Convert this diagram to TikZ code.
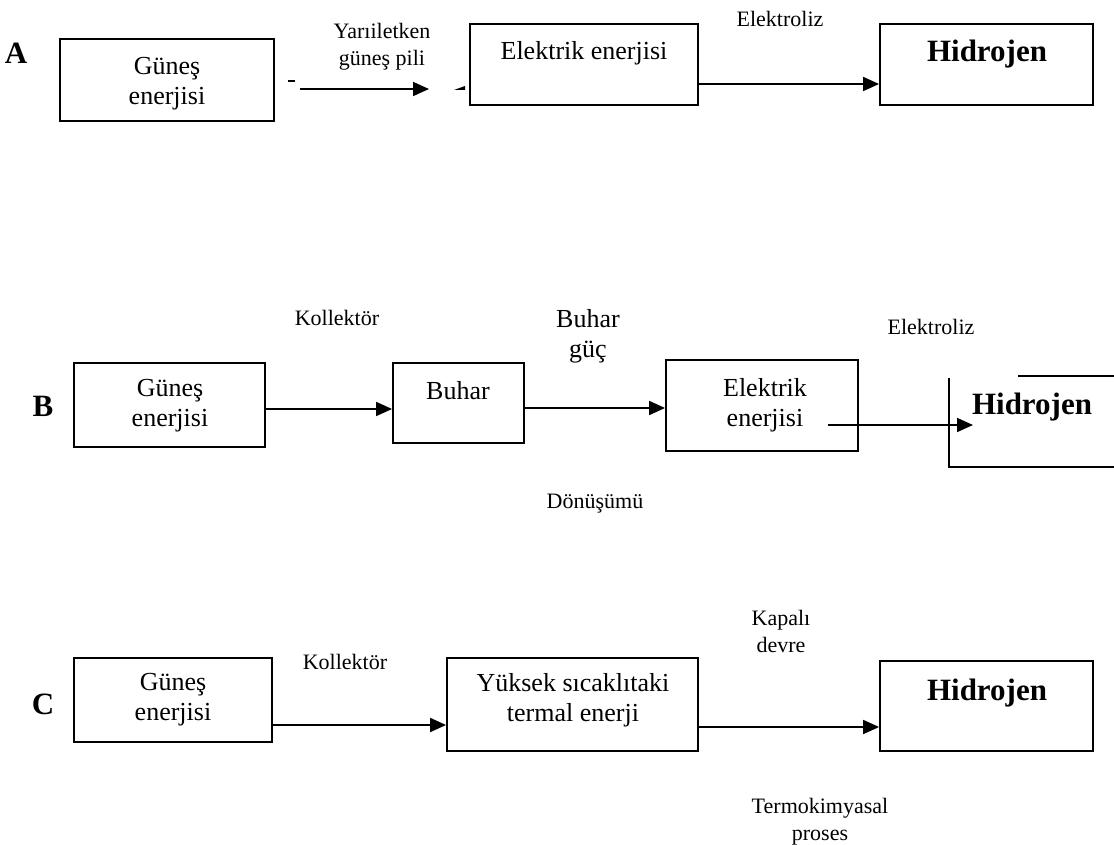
\documentclass[tikz,border=0pt]{standalone}
\usepackage{fontspec}
\setmainfont{Liberation Serif}
\usetikzlibrary{arrows.meta,positioning}

\tikzset{
  box/.style={draw, line width=1.8pt, inner sep=0pt},
  flow/.style={-{Triangle[length=16pt,width=14pt]}, line width=1.8pt},
  txt/.style={font=\fontsize{26}{30}\selectfont, align=center, inner sep=0pt},
  note/.style={font=\fontsize{22}{27}\selectfont, align=center, inner sep=0pt},
  big/.style={font=\fontsize{31}{34}\selectfont\bfseries, inner sep=0pt},
}

\begin{document}
\begin{tikzpicture}[x=1pt, y=-1pt]
  \useasboundingbox (0,0) rectangle (1114,845);

  % row A
  \node[big] (lA) at (16,53) {A};
  \node[box, minimum width=214pt, minimum height=82pt] (a1) at (167,80) {};
  \node[txt] (a1t) at (167,84) {Güneş\\enerjisi};
  \draw[line width=1.8pt] (288,81) -- (295,81);
  \coordinate (a1out) at (300,89);
  \coordinate (a2in) at (429,89);
  \draw[flow] (a1out) -- (a2in);
  \node[note] (a12) at (382,47) {Yarıiletken\\güneş pili};
  \fill (454,90) -- (465,86) -- (465,90) -- cycle;
  \node[box, minimum width=228pt, minimum height=81pt] (a2) at (584,64.5) {};
  \node[txt] (a2t) at (584,53) {Elektrik enerjisi};
  \node[note] (a23) at (780,19) {Elektroliz};
  \node[box, minimum width=213pt, minimum height=81pt] (a3) at (986.5,64.5) {};
  \node[big] (a3t) at (987,54) {Hidrojen};
  \draw[flow] ([yshift=-19.5pt]a2.east) -- ([yshift=-19.5pt]a3.west);

  % row B
  \node[big] (lB) at (43,406) {B};
  \node[box, minimum width=191pt, minimum height=84pt] (b1) at (169.5,405) {};
  \node[txt] (b1t) at (170,406) {Güneş\\enerjisi};
  \node[note] (b12) at (337,318) {Kollektör};
  \node[box, minimum width=131pt, minimum height=80pt] (b2) at (458.5,403) {};
  \node[txt] (b2t) at (458,391) {Buhar};
  \draw[flow] ([yshift=-4pt]b1.east) -- ([yshift=-4pt]b1.east -| b2.west);
  \node[txt] (b23) at (588,336) {Buhar\\güç};
  \node[box, minimum width=192pt, minimum height=91pt] (b3) at (762,405.5) {};
  \node[txt] (b3t) at (765,405) {Elektrik\\enerjisi};
  \draw[flow] ([yshift=-5pt]b2.east) -- ([yshift=-5pt]b2.east -| b3.west);
  \node[note] (b23b) at (595,504) {Dönüşümü};
  \node[note] (b34) at (931,327) {Elektroliz};
  \coordinate (b3out) at (828,425);
  \coordinate (b4in) at (973,425);
  \draw[flow] (b3out) -- (b4in);
  \draw[line width=1.8pt] (949,378) -- (949,467) -- (1114,467);
  \draw[line width=1.8pt] (1018,376) -- (1114,376);
  \node[big] (b4t) at (1032,407) {Hidrojen};

  % row C
  \node[big] (lC) at (43,704) {C};
  \node[box, minimum width=198pt, minimum height=84pt] (c1) at (173,700) {};
  \node[txt] (c1t) at (173,700) {Güneş\\enerjisi};
  \node[note] (c12) at (345,662) {Kollektör};
  \node[box, minimum width=251pt, minimum height=93pt] (c2) at (572.5,704.5) {};
  \node[txt] (c2t) at (573,700) {Yüksek sıcaklıtaki\\termal enerji};
  \draw[flow] ([yshift=-25pt]c1.east) -- ([yshift=-25pt]c1.east -| c2.west);
  \node[note] (c23) at (781,631) {Kapalı\\devre};
  \node[note] (c23b) at (820,822) {Termokimyasal\\proses};
  \node[box, minimum width=213pt, minimum height=90pt] (c3) at (986.5,706) {};
  \node[big] (c3t) at (987,693) {Hidrojen};
  \draw[flow] ([yshift=-22.5pt]c2.east) -- ([yshift=-22.5pt]c2.east -| c3.west);
\end{tikzpicture}
\end{document}
